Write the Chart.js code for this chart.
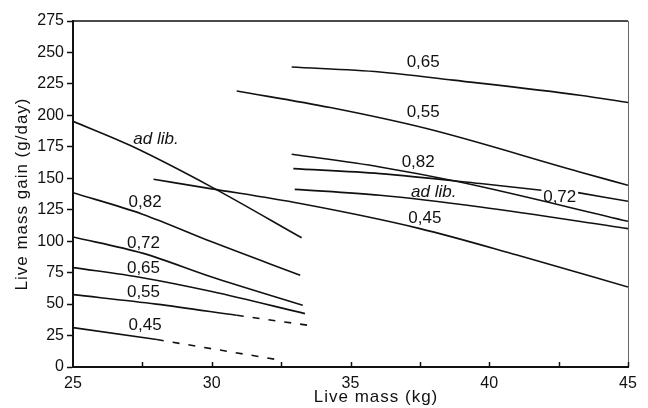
<!DOCTYPE html>
<html>
<head>
<meta charset="utf-8">
<script src="https://cdn.jsdelivr.net/npm/chart.js@4/dist/chart.umd.min.js"></script>
<style>
  html, body { margin: 0; padding: 0; background: #fff; }
  #wrap { width: 648px; height: 408px; }
</style>
</head>
<body>
<div id="wrap"><canvas id="chart" width="648" height="408"></canvas></div>
<script>
// Live mass gain curves (x = live mass kg, y = g/day)
// left group, 25 - 33 kg
const adLibLeftX = [25, 27.07, 30, 33.24];
const adLibLeftY = [195.3, 176, 143, 102.7];
const r82LeftX = [25, 27.5, 30, 33.19];
const r82LeftY = [138.5, 121.5, 99.5, 72.9];
const r72LeftX = [25, 27.5, 30, 33.28];
const r72LeftY = [103.3, 90.5, 71.5, 49];
const r65LeftX = [25, 27.5, 30, 33.36];
const r65LeftY = [79, 71, 60, 42.4];
const r55LeftX = [25, 28, 30.9];
const r55LeftY = [57.5, 50, 41.1];
const r55DashX = [30.9, 33.5];
const r55DashY = [41.1, 33.1];
const r45LeftX = [25, 28.02];
const r45LeftY = [31.3, 21.8];
const r45DashX = [28.02, 32.46];
const r45DashY = [21.8, 5.5];

// right group, 31 - 45 kg
const r65RightX = [32.88, 36.06, 38.7, 43.26, 45];
const r65RightY = [238.4, 234.5, 228, 216, 210.2];
const r55RightX = [30.9, 34.27, 37.74, 43.26, 45];
const r55RightY = [219.4, 206.2, 189.5, 155, 144.4];
const r82RightX = [32.88, 36.06, 38.94, 45];
const r82RightY = [169.1, 159, 147, 115.8];
const r72RightX = [32.94, 36.06, 39.68, 41.88];
const r72RightY = [157.7, 153.7, 145.8, 140.5];
const r72EndX = [43.2, 45];
const r72EndY = [138.6, 131.7];
const adLibRightX = [32.99, 36.06, 39.68, 45];
const adLibRightY = [141.2, 136.5, 127.2, 110];
const r45RightX = [27.9, 29.95, 33.19, 37.5, 41, 45];
const r45RightY = [149.2, 141.8, 129.9, 110, 89, 63.6];

// curve labels (data coords)
const labelText = ['ad lib.', '0,82', '0,72', '0,65', '0,55', '0,45',
                   '0,65', '0,55', '0,82', 'ad lib.', '0,72', '0,45'];
const labelX = [27.99, 27.6, 27.54, 27.54, 27.54, 27.6,
                37.62, 37.62, 37.44, 38.0, 42.54, 37.68];
const labelY = [180.9, 131.2, 98.1, 78.2, 59.2, 33.1,
                242.4, 202.7, 163, 138.6, 135.1, 118];
const labelItalic = [true, false, false, false, false, false,
                     false, false, false, true, false, false];

const FONT = '"Liberation Sans", Arial, Helvetica, sans-serif';
const INK = '#111';

function pts(xs, ys) {
    return xs.map((x, i) => ({ x, y: ys[i] }));
}

function line(xs, ys, dashed) {
    return {
        data: pts(xs, ys),
        borderColor: INK,
        borderWidth: 1.6,
        borderDash: dashed ? [7, 9] : [],
        pointRadius: 0,
        cubicInterpolationMode: 'monotone',
        fill: false
    };
}

const datasets = [
    line(adLibLeftX, adLibLeftY),
    line(r82LeftX, r82LeftY),
    line(r72LeftX, r72LeftY),
    line(r65LeftX, r65LeftY),
    line(r55LeftX, r55LeftY),
    line(r55DashX, r55DashY, true),
    line(r45LeftX, r45LeftY),
    line(r45DashX, r45DashY, true),
    line(r65RightX, r65RightY),
    line(r55RightX, r55RightY),
    line(r82RightX, r82RightY),
    line(r72RightX, r72RightY),
    line(r72EndX, r72EndY),
    line(adLibRightX, adLibRightY),
    line(r45RightX, r45RightY)
];

// frame, inward x ticks, curve labels and axis titles
const extras = {
    id: 'extras',
    afterDatasetsDraw(chart) {
        const { ctx, chartArea: a, scales: { x, y } } = chart;
        ctx.save();

        // top and right frame
        ctx.strokeStyle = INK;
        ctx.lineWidth = 1.5;
        ctx.beginPath();
        ctx.moveTo(a.left, a.top);
        ctx.lineTo(a.right, a.top);
        ctx.stroke();
        ctx.strokeStyle = '#666';
        ctx.lineWidth = 1;
        ctx.beginPath();
        ctx.moveTo(a.right + 0.5, a.top);
        ctx.lineTo(a.right + 0.5, a.bottom);
        ctx.stroke();

        // x ticks pointing up into the plot
        ctx.strokeStyle = INK;
        ctx.lineWidth = 1.5;
        for (let v = 27.5; v <= 45; v += 2.5) {
            const px = Math.round(x.getPixelForValue(v)) + 0.5;
            ctx.beginPath();
            ctx.moveTo(px, a.bottom);
            ctx.lineTo(px, a.bottom - 5);
            ctx.stroke();
        }

        // curve labels
        ctx.fillStyle = INK;
        ctx.textAlign = 'center';
        ctx.textBaseline = 'middle';
        labelText.forEach((t, i) => {
            ctx.font = (labelItalic[i] ? 'italic ' : '') + '17px ' + FONT;
            ctx.fillText(t, x.getPixelForValue(labelX[i]), y.getPixelForValue(labelY[i]));
        });

        // axis titles
        ctx.font = '17px ' + FONT;
        ctx.letterSpacing = '1px';
        ctx.fillText('Live mass (kg)', 376, 397);
        ctx.translate(22, (a.top + a.bottom) / 2);
        ctx.rotate(-Math.PI / 2);
        ctx.fillText('Live mass gain (g/day)', 0, 0);
        ctx.restore();
    }
};

new Chart(document.getElementById('chart').getContext('2d'), {
    type: 'line',
    data: { datasets },
    options: {
        responsive: false,
        animation: false,
        layout: { padding: { top: 21, right: 20, left: 0, bottom: 0 } },
        plugins: { legend: { display: false }, tooltip: { enabled: false } },
        scales: {
            x: {
                type: 'linear',
                min: 25,
                max: 45,
                afterFit: s => { s.height = 41; },
                ticks: {
                    stepSize: 2.5,
                    autoSkip: false,
                    maxRotation: 0,
                    padding: 7,
                    color: INK,
                    font: { family: FONT, size: 16 },
                    callback: v => (v % 5 === 0 ? v : '')
                },
                grid: { display: false, drawTicks: false },
                border: { display: true, color: INK, width: 2 }
            },
            y: {
                min: 0,
                max: 275,
                afterFit: s => { s.width = 73; },
                ticks: {
                    stepSize: 25,
                    padding: 3,
                    color: INK,
                    font: { family: FONT, size: 16 }
                },
                grid: { drawOnChartArea: false, tickLength: 6, color: INK, tickWidth: 1.5 },
                border: { display: true, color: INK, width: 2 }
            }
        }
    },
    plugins: [extras]
});
</script>
</body>
</html>
